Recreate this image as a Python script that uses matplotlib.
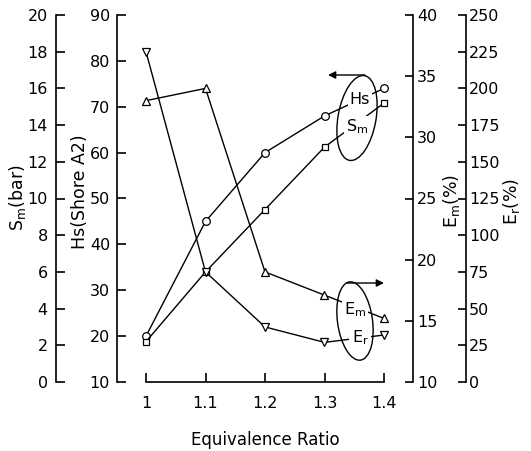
import matplotlib
matplotlib.use('Agg')
import matplotlib.pyplot as plt
from matplotlib.patches import Ellipse

# values
ratio = [1.0, 1.1, 1.2, 1.3, 1.4]
hs = [20, 45, 60, 68, 74]            # Hs (Shore A2), circles
sm = [2.2, 6.0, 9.4, 12.8, 15.2]     # Sm (bar), squares
em = [33.0, 34.0, 19.0, 17.1, 15.2]  # Em (%), up triangles
er = [225, 75, 37.5, 27, 32]         # Er (%), down triangles

x_ticks = [1, 1.1, 1.2, 1.3, 1.4]
x_labels = ['1', '1.1', '1.2', '1.3', '1.4']
sm_ticks = list(range(0, 21, 2))
hs_ticks = list(range(10, 91, 10))
em_ticks = list(range(10, 41, 5))
er_ticks = list(range(0, 251, 25))

W, H = 531, 451
fig = plt.figure(figsize=(W / 100, H / 100), dpi=100)
ax = fig.add_axes([117 / W, (H - 382) / H, (413 - 117) / W, (382 - 15) / H])

tick_fs = 11.5
lab_fs = 12.5
lw_sp = 1.2

ax_s = ax.twinx()
ax_e = ax.twinx()
ax_r = ax.twinx()

for a in (ax, ax_s, ax_e, ax_r):
    for s in a.spines.values():
        s.set_visible(False)
        s.set_linewidth(lw_sp)
    a.patch.set_visible(False)

# Hs axis (inner left) + x axis
ax.spines['left'].set_visible(True)
ax.spines['bottom'].set_visible(True)
ax.spines['bottom'].set_bounds(1, 1.4)
ax.set_xlim(1 - 29 / 595, 1.4 + 29 / 595)
ax.set_ylim(10, 90)
ax.set_yticks(hs_ticks)
ax.set_xticks(x_ticks)
ax.set_xticklabels(x_labels)
ax.tick_params(axis='y', direction='in', length=6.5, width=lw_sp, labelsize=tick_fs, pad=5)
ax.tick_params(axis='x', direction='in', length=6.5, width=lw_sp, labelsize=tick_fs, pad=10)

# Sm axis (outer left)
ax_s.spines['left'].set_visible(True)
ax_s.spines['left'].set_position(('axes', (56 - 117) / 296))
ax_s.yaxis.set_ticks_position('left')
ax_s.yaxis.set_label_position('left')
ax_s.set_ylim(0, 20)
ax_s.set_yticks(sm_ticks)
ax_s.tick_params(axis='y', direction='in', length=6.5, width=lw_sp, labelsize=tick_fs, pad=6)

# Em axis (inner right)
ax_e.spines['right'].set_visible(True)
ax_e.set_ylim(10, 40)
ax_e.set_yticks(em_ticks)
ax_e.tick_params(axis='y', direction='in', length=6, width=lw_sp, labelsize=tick_fs, pad=3)

# Er axis (outer right)
ax_r.spines['right'].set_visible(True)
ax_r.spines['right'].set_position(('axes', (466 - 117) / 296))
ax_r.set_ylim(0, 250)
ax_r.set_yticks(er_ticks)
ax_r.tick_params(axis='y', direction='in', length=6, width=lw_sp, labelsize=tick_fs, pad=2)

mk = dict(color='k', lw=1.0, markerfacecolor='white', markeredgecolor='k', mew=0.9, clip_on=False)
ax.plot(ratio, hs, marker='o', ms=5.5, **mk)
ax_s.plot(ratio, sm, marker='s', ms=5, **mk)
ax_e.plot(ratio, em, marker='^', ms=6, **mk)
ax_r.plot(ratio, er, marker='v', ms=6, **mk)

# axis titles
fig.text(17 / W, 1 - 198 / H, r'S$_\mathrm{m}$(bar)', rotation=90, ha='center', va='center', fontsize=lab_fs)
fig.text(80 / W, 1 - 192 / H, 'Hs(Shore A2)', rotation=90, ha='center', va='center', fontsize=lab_fs)
fig.text(451 / W, 1 - 201 / H, r'E$_\mathrm{m}$(%)', rotation=90, ha='center', va='center', fontsize=lab_fs)
fig.text(512 / W, 1 - 201 / H, r'E$_\mathrm{r}$(%)', rotation=90, ha='center', va='center', fontsize=lab_fs)
fig.text(265 / W, 1 - 440 / H, 'Equivalence Ratio', ha='center', va='center', fontsize=12)

# series labels sitting on the lines
box = dict(facecolor='white', edgecolor='none', pad=1.5)
for txt, x, y in [('Hs', 360, 99), (r'S$_\mathrm{m}$', 357, 127),
                  (r'E$_\mathrm{m}$', 355, 310), (r'E$_\mathrm{r}$', 360, 338)]:
    fig.text(x / W, 1 - y / H, txt, ha='center', va='center', fontsize=tick_fs, bbox=box, zorder=3)

# ellipses
fig.add_artist(Ellipse((3.57, (H - 118) / 100), 0.38, 0.86, angle=-10,
                       transform=fig.dpi_scale_trans, fill=False, lw=1.0, ec='k', zorder=4))
fig.add_artist(Ellipse((3.55, (H - 321) / 100), 0.35, 0.79, angle=8,
                       transform=fig.dpi_scale_trans, fill=False, lw=1.0, ec='k', zorder=4))

# arrows pointing to the axis sides
arr = dict(arrowstyle='-|>', color='k', lw=1.0, mutation_scale=11, shrinkA=0, shrinkB=0)
ax.annotate('', xy=(328, H - 75), xytext=(365, H - 75), xycoords='figure pixels',
            textcoords='figure pixels', arrowprops=arr)
ax.annotate('', xy=(384, H - 283), xytext=(347, H - 283), xycoords='figure pixels',
            textcoords='figure pixels', arrowprops=arr)

fig.savefig('out.png', dpi=100)
